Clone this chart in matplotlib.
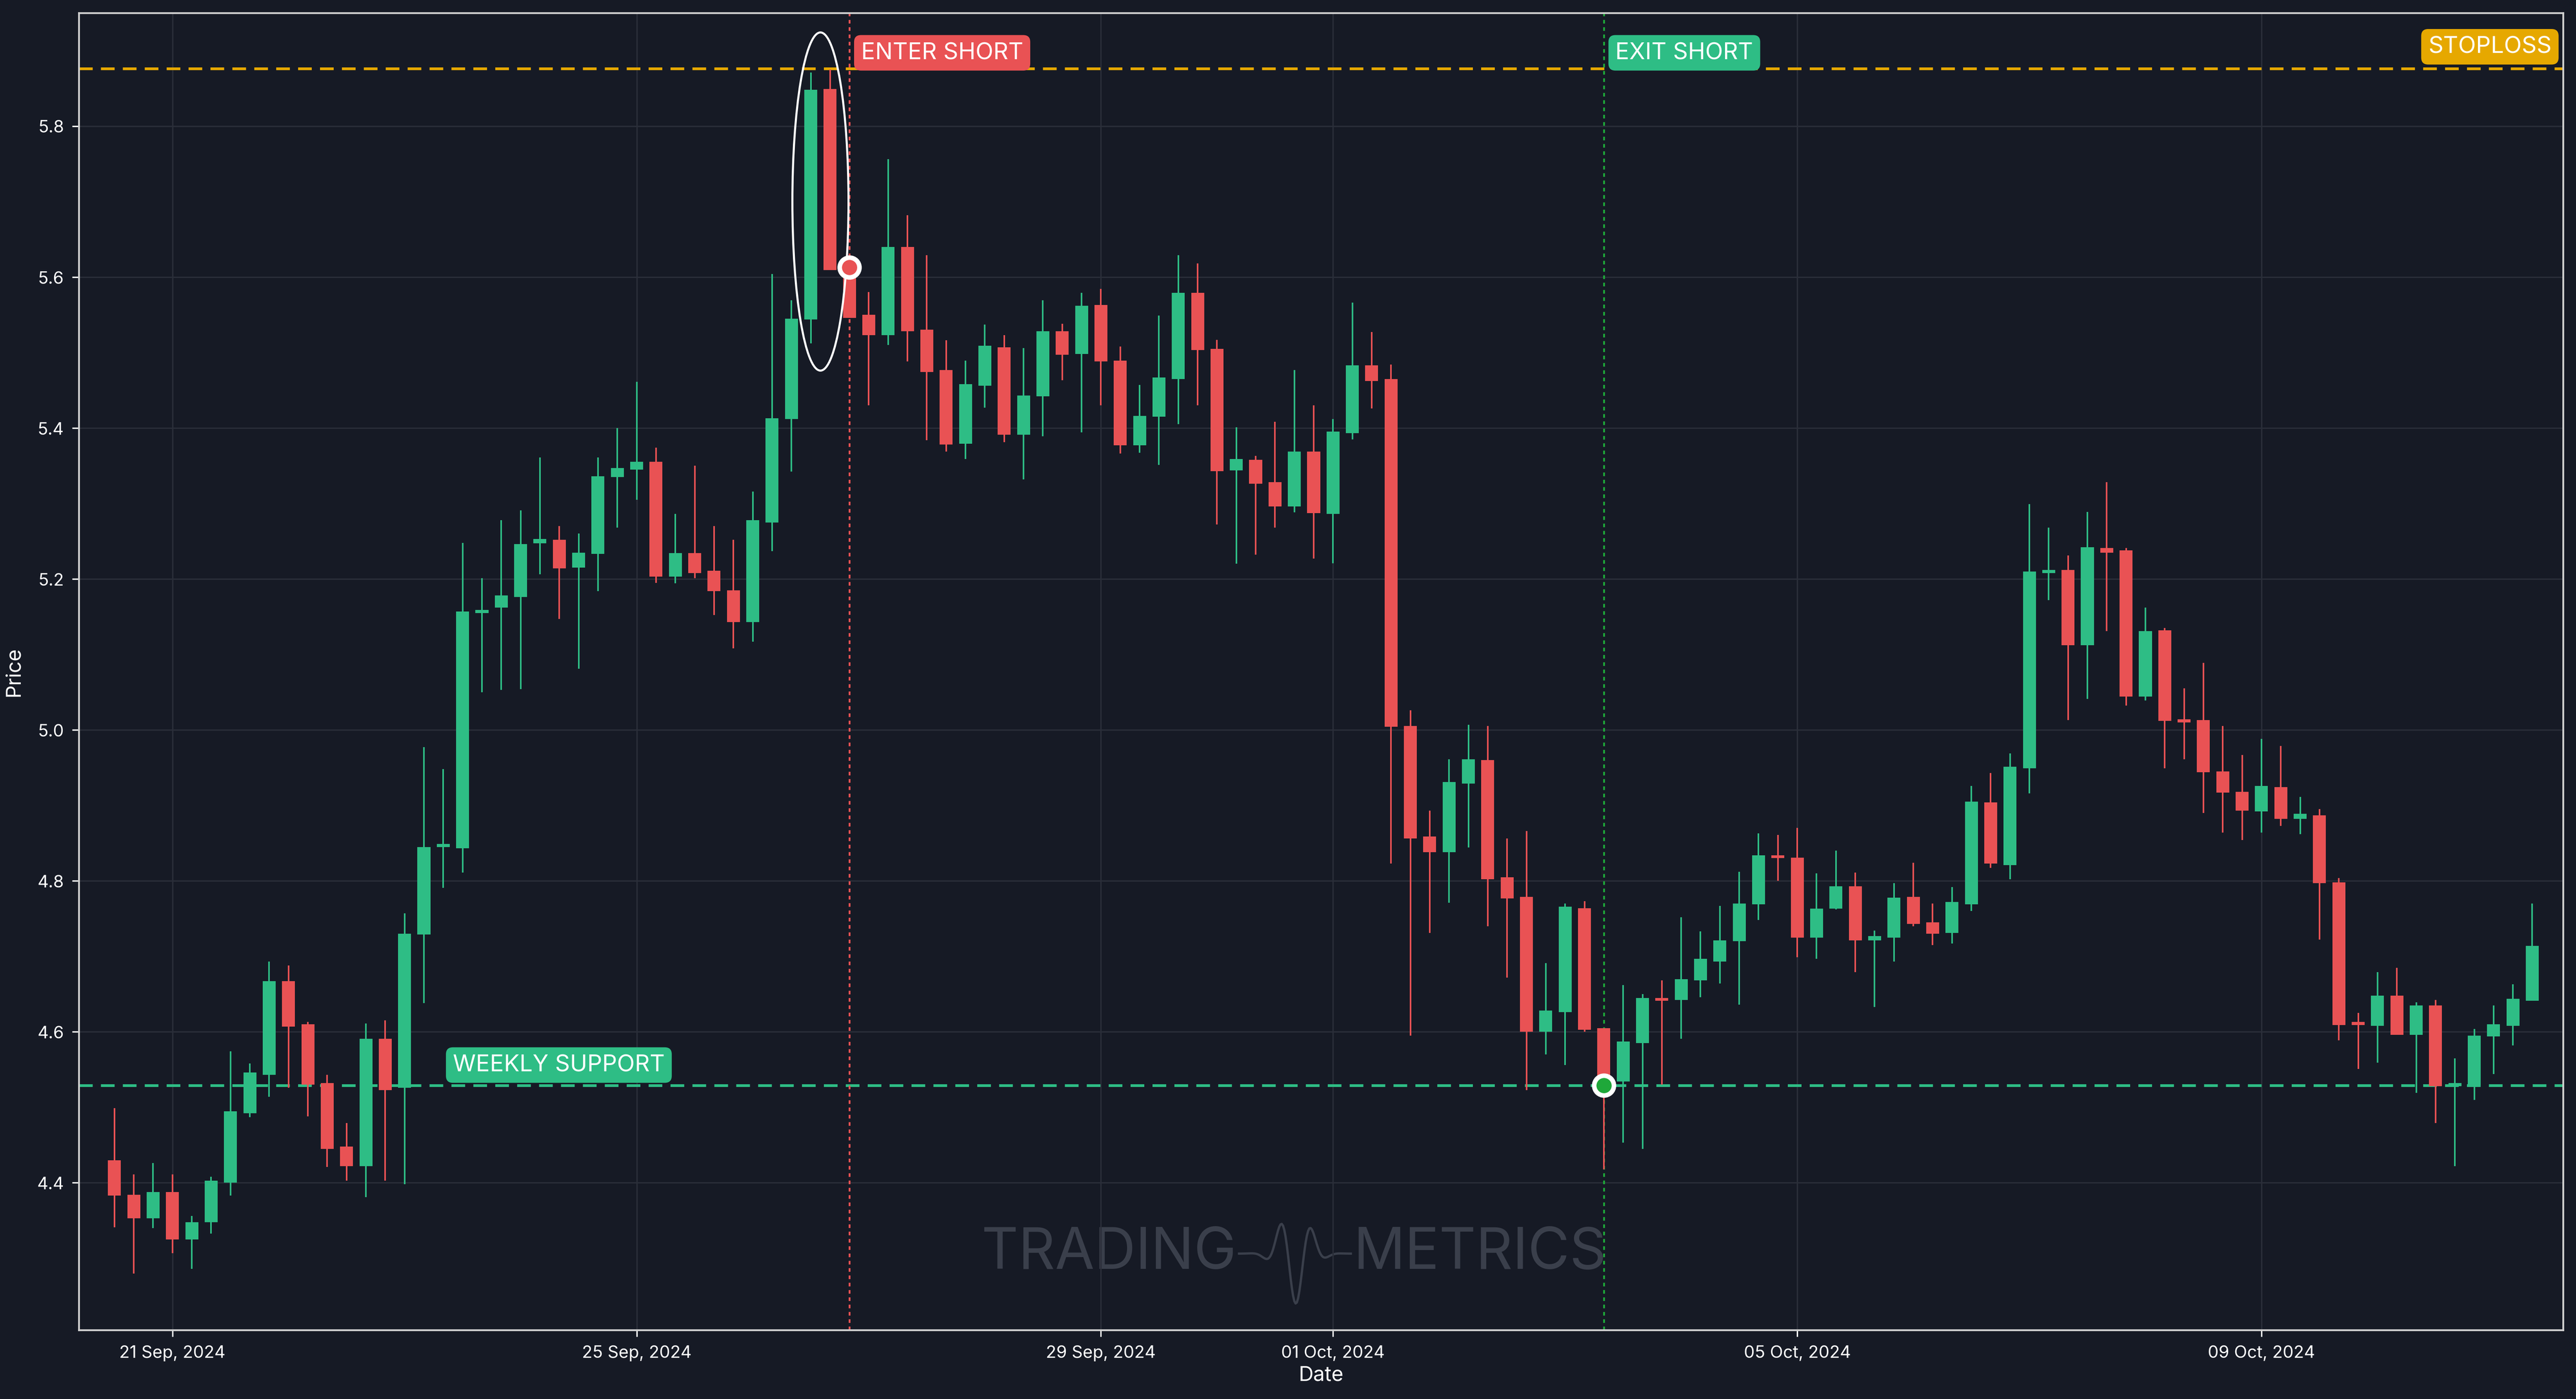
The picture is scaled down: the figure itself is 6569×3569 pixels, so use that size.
import matplotlib
matplotlib.use("Agg")
import matplotlib.pyplot as plt
import numpy as np
import pandas as pd
from matplotlib.patches import Ellipse

plt.rcParams['font.family'] = ['Inter', 'DejaVu Sans']

start = "2024-09-20 12:00"
opens = [4.430,4.384,4.353,4.388,4.325,4.348,4.400,4.492,4.543,4.667,4.610,4.532,4.448,4.422,4.591,4.526,4.729,4.845,4.843,5.155,
         5.162,5.176,5.247,5.252,5.215,5.233,5.335,5.345,5.355,5.203,5.234,5.211,5.185,5.143,5.275,5.412,5.544,5.849,5.610,5.550,
         5.523,5.640,5.530,5.477,5.379,5.456,5.507,5.391,5.442,5.528,5.498,5.563,5.489,5.377,5.415,5.465,5.579,5.505,5.344,5.358,
         5.328,5.296,5.369,5.286,5.393,5.483,5.465,5.005,4.859,4.838,4.929,4.960,4.805,4.779,4.600,4.626,4.764,4.605,4.534,4.585,
         4.645,4.642,4.668,4.693,4.720,4.769,4.834,4.831,4.725,4.763,4.793,4.721,4.725,4.779,4.745,4.731,4.769,4.904,4.821,4.949,
         5.208,5.212,5.112,5.241,5.238,5.044,5.132,5.014,5.013,4.945,4.918,4.892,4.924,4.882,4.887,4.798,4.611,4.608,4.648,4.596,
         4.635,4.528,4.529,4.594,4.608,4.641]
closes = [4.383,4.353,4.388,4.325,4.348,4.403,4.495,4.546,4.667,4.607,4.530,4.445,4.422,4.591,4.523,4.730,4.845,4.846,5.157,5.158,
          5.178,5.246,5.253,5.214,5.235,5.336,5.347,5.355,5.203,5.234,5.208,5.184,5.143,5.278,5.413,5.545,5.848,5.609,5.546,5.523,
          5.640,5.528,5.474,5.378,5.458,5.509,5.391,5.443,5.528,5.497,5.562,5.488,5.377,5.416,5.467,5.579,5.503,5.343,5.359,5.326,
          5.296,5.369,5.287,5.395,5.483,5.462,5.004,4.856,4.838,4.931,4.961,4.802,4.777,4.600,4.628,4.766,4.603,4.530,4.587,4.645,
          4.641,4.670,4.697,4.721,4.770,4.834,4.830,4.725,4.763,4.793,4.721,4.727,4.778,4.743,4.730,4.772,4.905,4.823,4.951,5.210,
          5.211,5.112,5.242,5.235,5.044,5.131,5.012,5.010,4.944,4.917,4.893,4.926,4.882,4.889,4.797,4.609,4.609,4.648,4.596,4.635,
          4.528,4.530,4.595,4.610,4.644,4.714]
highs = [4.499,4.411,4.426,4.411,4.356,4.408,4.574,4.558,4.693,4.688,4.613,4.543,4.479,4.611,4.615,4.757,4.977,4.948,5.248,5.201,
         5.278,5.291,5.361,5.270,5.260,5.361,5.400,5.461,5.374,5.286,5.350,5.270,5.252,5.316,5.604,5.569,5.871,5.875,5.612,5.580,
         5.756,5.682,5.629,5.516,5.489,5.537,5.523,5.506,5.569,5.538,5.579,5.584,5.508,5.457,5.549,5.629,5.618,5.517,5.401,5.363,
         5.408,5.477,5.430,5.412,5.566,5.527,5.484,5.026,4.893,4.961,5.007,5.005,4.856,4.866,4.691,4.770,4.773,4.605,4.662,4.650,
         4.668,4.752,4.733,4.767,4.812,4.863,4.861,4.870,4.810,4.840,4.811,4.734,4.797,4.824,4.770,4.792,4.926,4.943,4.969,5.299,
         5.268,5.231,5.289,5.328,5.241,5.162,5.135,5.055,5.089,5.005,4.967,4.988,4.979,4.911,4.895,4.804,4.625,4.679,4.685,4.639,
         4.642,4.565,4.604,4.635,4.663,4.770]
lows = [4.341,4.280,4.340,4.307,4.286,4.333,4.383,4.487,4.514,4.526,4.488,4.421,4.403,4.381,4.403,4.398,4.638,4.791,4.811,5.050,
        5.053,5.054,5.206,5.147,5.081,5.184,5.268,5.305,5.195,5.194,5.201,5.152,5.108,5.117,5.237,5.342,5.512,5.609,5.546,5.430,
        5.510,5.488,5.384,5.369,5.359,5.427,5.381,5.332,5.389,5.463,5.394,5.430,5.366,5.367,5.351,5.405,5.430,5.272,5.220,5.232,
        5.268,5.288,5.227,5.221,5.385,5.426,4.823,4.595,4.731,4.771,4.844,4.740,4.672,4.523,4.570,4.556,4.600,4.418,4.453,4.445,
        4.530,4.591,4.646,4.664,4.636,4.748,4.800,4.699,4.697,4.762,4.679,4.633,4.693,4.740,4.715,4.717,4.760,4.817,4.802,4.916,
        5.172,5.013,5.041,5.131,5.032,5.039,4.949,4.961,4.890,4.864,4.854,4.864,4.873,4.862,4.722,4.589,4.551,4.559,4.596,4.519,
        4.479,4.422,4.510,4.544,4.582,4.641]

stoploss = 5.876
weekly_support = 4.529
entry_idx, entry_price = 38, 5.613
exit_idx, exit_price = 77, 4.529
tick_dates = ["2024-09-21", "2024-09-25", "2024-09-29", "2024-10-01", "2024-10-05", "2024-10-09"]
tick_labels = ["21 Sep, 2024", "25 Sep, 2024", "29 Sep, 2024", "01 Oct, 2024", "05 Oct, 2024", "09 Oct, 2024"]
yticks = [4.4, 4.6, 4.8, 5.0, 5.2, 5.4, 5.6, 5.8]

n = len(opens)
t0 = pd.Timestamp(start)
xs = np.arange(n)
o = np.array(opens); c = np.array(closes); h = np.array(highs); l = np.array(lows)

BG = "#161a25"
GREEN = "#2ebd85"
RED = "#e95254"

fig = plt.figure(figsize=(15.68, 8.52), dpi=419)
fig.patch.set_facecolor(BG)
ax = fig.add_axes([0.0306, 0.0493, 0.9643, 0.9413])
ax.set_facecolor(BG)

up = c >= o
cols = np.where(up, GREEN, RED)
ax.vlines(xs, l, h, colors=cols, linewidth=0.7, zorder=3)
bh = np.maximum(np.abs(c - o), 0.004)
ax.bar(xs, bh, bottom=np.minimum(o, c), width=0.67, color=cols, zorder=4, linewidth=0)

ax.set_xlim(-1.84, 126.6)
ax.set_ylim(4.205, 5.95)
tx = [(pd.Timestamp(d) - t0) / pd.Timedelta(hours=4) for d in tick_dates]
ax.set_xticks(tx)
ax.set_xticklabels(tick_labels, fontsize=7.5, color="white")
ax.set_yticks(yticks)
ax.set_yticklabels([f"{v:.1f}" for v in yticks], fontsize=7.5, color="white")
ax.tick_params(colors="white", length=3, width=0.6)
ax.grid(True, color="#2a2e39", linewidth=0.6, zorder=0)
for s in ax.spines.values():
    s.set_color("#d0d0d0"); s.set_linewidth(0.8)
ax.set_xlabel("Date", color="white", fontsize=9, labelpad=2)
ax.set_ylabel("Price", color="white", fontsize=9, labelpad=6)

ax.axhline(stoploss, color="#e6a800", linestyle=(0, (5, 3)), linewidth=1.2, zorder=2)
ax.axhline(weekly_support, color=GREEN, linestyle=(0, (5, 3)), linewidth=1.2, zorder=2)
ax.axvline(entry_idx, color=RED, linestyle=(0, (2, 2)), linewidth=0.8, zorder=2)
ax.axvline(exit_idx, color="#1fa83a", linestyle=(0, (2, 2)), linewidth=0.8, zorder=2)

ax.scatter([entry_idx], [entry_price], s=75, color=RED, edgecolor="white", linewidth=2.0, zorder=6)
ax.scatter([exit_idx], [exit_price], s=75, color="#1fa83a", edgecolor="white", linewidth=2.0, zorder=6)
ax.add_patch(Ellipse((36.5, 5.70), 2.9, 0.448, fill=False, edgecolor="white", linewidth=0.9, zorder=5))

def tag(x, y, s, fc, ha="left"):
    ax.text(x, y, s, color="white", fontsize=10.2, ha=ha, va="center", zorder=7,
            bbox=dict(boxstyle="round,pad=0.3,rounding_size=0.3", fc=fc, ec="none"))

tag(entry_idx + 0.6, 5.897, "ENTER SHORT", RED)
tag(exit_idx + 0.6, 5.897, "EXIT SHORT", GREEN)
tag(126.0, 5.905, "STOPLOSS", "#e6a800", ha="right")
tag(17.5, 4.556, "WEEKLY SUPPORT", GREEN)

ax.text(0.466, 0.058, "TRADING", transform=ax.transAxes, fontsize=25, color="#3a3f4b",
        ha="right", va="center", zorder=1)
ax.text(0.513, 0.058, "METRICS", transform=ax.transAxes, fontsize=25, color="#3a3f4b",
        ha="left", va="center", zorder=1)
wx = np.linspace(0.467, 0.512, 90)
wy = 0.058 + 0.038 * np.sin((wx - 0.467) * 480) * np.exp(-((wx - 0.4895) / 0.008) ** 2)
ax.plot(wx, wy, transform=ax.transAxes, color="#3a3f4b", linewidth=1.0, zorder=1)

fig.savefig("out.png", dpi=419, facecolor=BG)
